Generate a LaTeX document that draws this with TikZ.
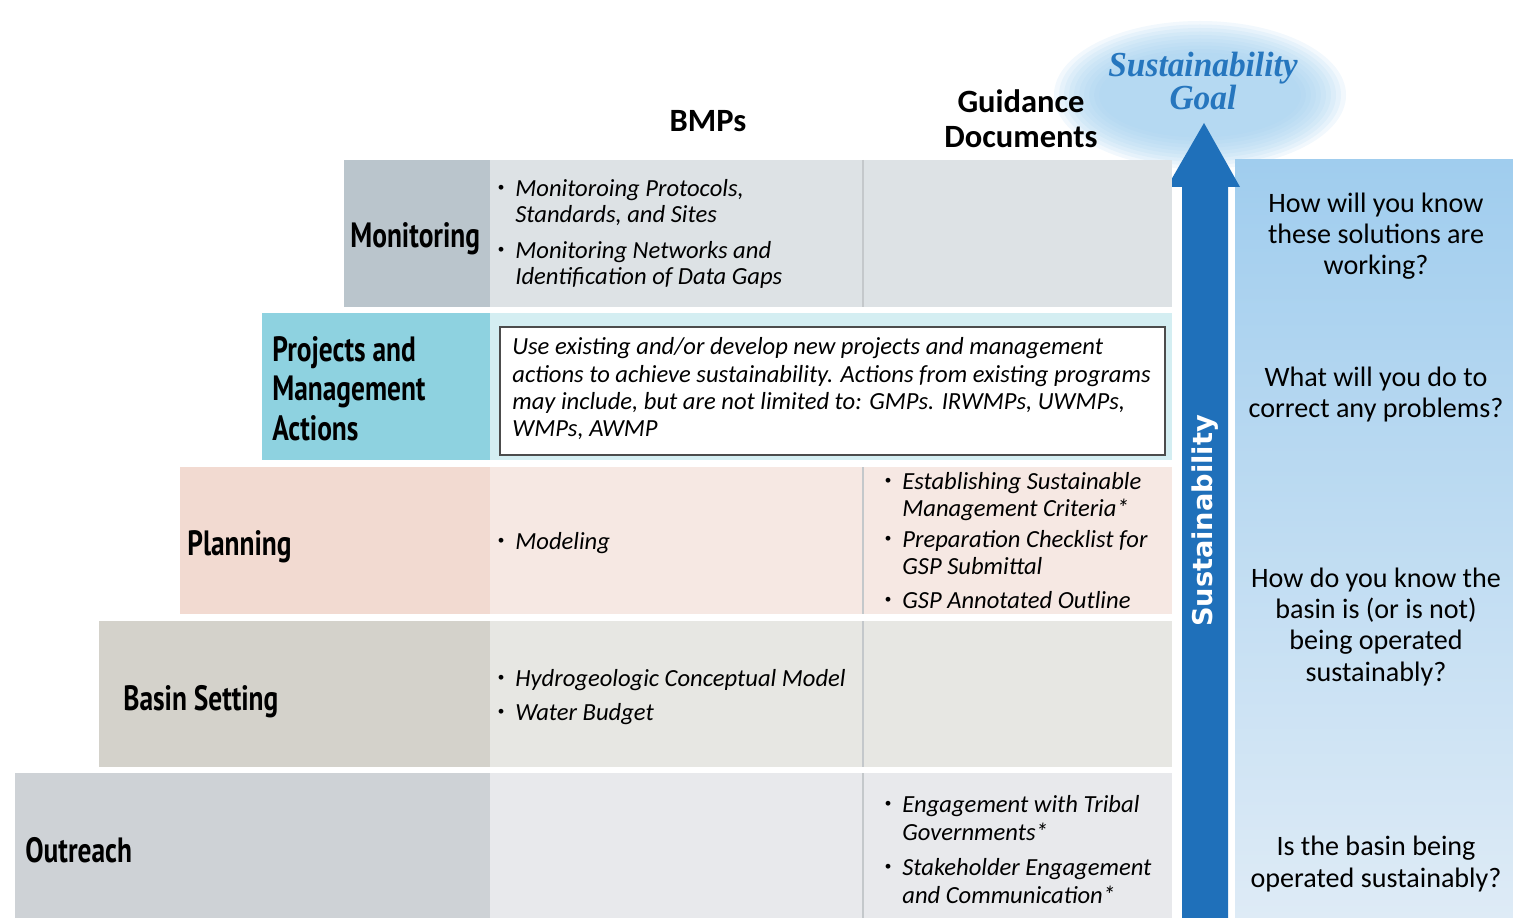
\documentclass[tikz,border=0pt]{standalone}
\usepackage{fontspec}
\setmainfont{Carlito}
\newfontfamily\labfont[FakeStretch=0.78]{PT Sans}
\newfontfamily\arrowfont{DejaVu Sans}
\newfontfamily\goalfont[FakeStretch=0.95]{Liberation Serif}
\usepackage{xcolor}
\definecolor{monlab}{RGB}{186,197,204}
\definecolor{moncell}{RGB}{221,226,229}
\definecolor{projlab}{RGB}{142,210,224}
\definecolor{projcell}{RGB}{212,238,242}
\definecolor{planlab}{RGB}{242,218,209}
\definecolor{plancell}{RGB}{246,232,227}
\definecolor{basinlab}{RGB}{212,210,203}
\definecolor{basincell}{RGB}{231,231,227}
\definecolor{outlab}{RGB}{206,210,214}
\definecolor{outcell}{RGB}{232,233,236}
\definecolor{divgray}{RGB}{196,200,203}
\definecolor{arrowblue}{RGB}{31,112,186}
\definecolor{paneltop}{RGB}{160,205,238}
\definecolor{panelbot}{RGB}{222,235,246}
\definecolor{cloudblue}{RGB}{160,206,238}
\definecolor{goalblue}{RGB}{38,118,190}
\usepackage{tikz}
\usetikzlibrary{positioning}
\newcommand{\bul}{\makebox[0pt][r]{\raisebox{0.2em}{\scalebox{0.55}{\textbullet}}\hspace{0.45em}}}

\begin{document}
\begin{tikzpicture}[x=0.02cm,y=-0.02cm,
  lab/.style={font=\labfont\bfseries\fontsize{20}{22.2}\selectfont, align=left, inner sep=0pt, anchor=base west},
  bmp/.style={font=\itshape\fontsize{14}{15.3}\selectfont, align=left, inner sep=0pt, anchor=base west},
  head/.style={font=\bfseries\fontsize{18.5}{20.4}\selectfont, align=center, inner sep=0pt, anchor=base},
  ask/.style={font=\fontsize{16}{17.8}\selectfont, align=center, inner sep=0pt, anchor=base},
  divline/.style={draw=divgray, line width=1.5pt}]
\useasboundingbox (0,0) rectangle (1513,918);

% goal cloud (soft edge), panel and arrow
\foreach \k in {0,...,9}
  \fill[cloudblue, opacity=0.14] (1200,95) ellipse [x radius={146-5*\k}, y radius={74-3.5*\k}];
\shade[top color=paneltop, bottom color=panelbot] (1235,160) rectangle (1513,918);
\fill[arrowblue] (1182,918) -- (1182,187) -- (1167,187) -- (1204,123) -- (1240,187)
  -- (1228,187) -- (1228,918) -- cycle;

% rows
\fill[monlab] (344,160) rectangle (490,307);
\fill[moncell] (490,160) rectangle (1172,307);
\draw[divline] (863,160) -- (863,307);
\fill[projlab] (262,313) rectangle (490,460);
\fill[projcell] (490,313) rectangle (1172,460);
\draw[black!70, line width=0.8pt, fill=white] (500,327) rectangle (1165,455);
\fill[planlab] (180,467) rectangle (490,614);
\fill[plancell] (490,467) rectangle (1172,614);
\draw[divline] (863,467) -- (863,614);
\fill[basinlab] (99,621) rectangle (490,767);
\fill[basincell] (490,621) rectangle (1172,767);
\draw[divline] (863,621) -- (863,767);
\fill[outlab] (15,773) rectangle (490,918);
\fill[outcell] (490,773) rectangle (1172,918);
\draw[divline] (863,773) -- (863,918);

% headers (multi-line nodes sit on their last baseline)
\node[head] (bmps) at (708,132) {BMPs};
\node[head] (guide) at (1021,148) {Guidance\\Documents};
\node[font=\goalfont\bfseries\itshape\fontsize{20}{16.4}\selectfont, text=goalblue, align=center,
  inner sep=0pt, anchor=base] (goal) at (1203,110) {Sustainability\\Goal};
\node[font=\arrowfont\bfseries\fontsize{15.5}{18}\selectfont, text=white, rotate=90,
  inner sep=0pt] (sustarrow) at (1205,521) {Sustainability};

% row labels
\node[lab] (monlabel) at (350,248) {Monitoring};
\node[lab] (projlabel) at (272,440) {Projects and\\Management\\Actions};
\node[lab] (planlabel) at (187,555) {Planning};
\node[lab] (basinlabel) at (123,710) {Basin Setting};
\node[lab] (outlabel) at (25,862) {Outreach};

% BMPs and guidance documents
\node[bmp] (monb1) at (515,223) {\bul Monitoroing Protocols,\\Standards, and Sites};
\node[bmp] (monb2) at (515,285) {\bul Monitoring Networks and\\Identification of Data Gaps};
\node[bmp, font=\itshape\fontsize{14}{15.6}\selectfont] (projbox) at (512,437)
  {Use existing and/or develop new projects and management\\
  actions to achieve sustainability. Actions from existing programs\\
  may include, but are not limited to: GMPs. IRWMPs, UWMPs,\\WMPs, AWMP};
\node[bmp] (planb1) at (515,549) {\bul Modeling};
\node[bmp] (plang1) at (902,516) {\bul Establishing Sustainable\\Management Criteria*};
\node[bmp] (plang2) at (902,574) {\bul Preparation Checklist for\\GSP Submittal};
\node[bmp] (plang3) at (902,608) {\bul GSP Annotated Outline};
\node[bmp] (basinb1) at (515,686) {\bul Hydrogeologic Conceptual Model};
\node[bmp] (basinb2) at (515,720) {\bul Water Budget};
\node[bmp, font=\itshape\fontsize{14}{15.9}\selectfont] (outg1) at (902,840) {\bul Engagement with Tribal\\Governments*};
\node[bmp, font=\itshape\fontsize{14}{15.9}\selectfont] (outg2) at (902,903) {\bul Stakeholder Engagement\\and Communication*};

% questions
\node[ask] (ask1) at (1376,275) {How will you know\\these solutions are\\working?};
\node[ask] (ask2) at (1376,418) {What will you do to\\correct any problems?};
\node[ask] (ask3) at (1376,681) {How do you know the\\basin is (or is not)\\being operated\\sustainably?};
\node[ask] (ask4) at (1376,887) {Is the basin being\\operated sustainably?};
\end{tikzpicture}
\end{document}
